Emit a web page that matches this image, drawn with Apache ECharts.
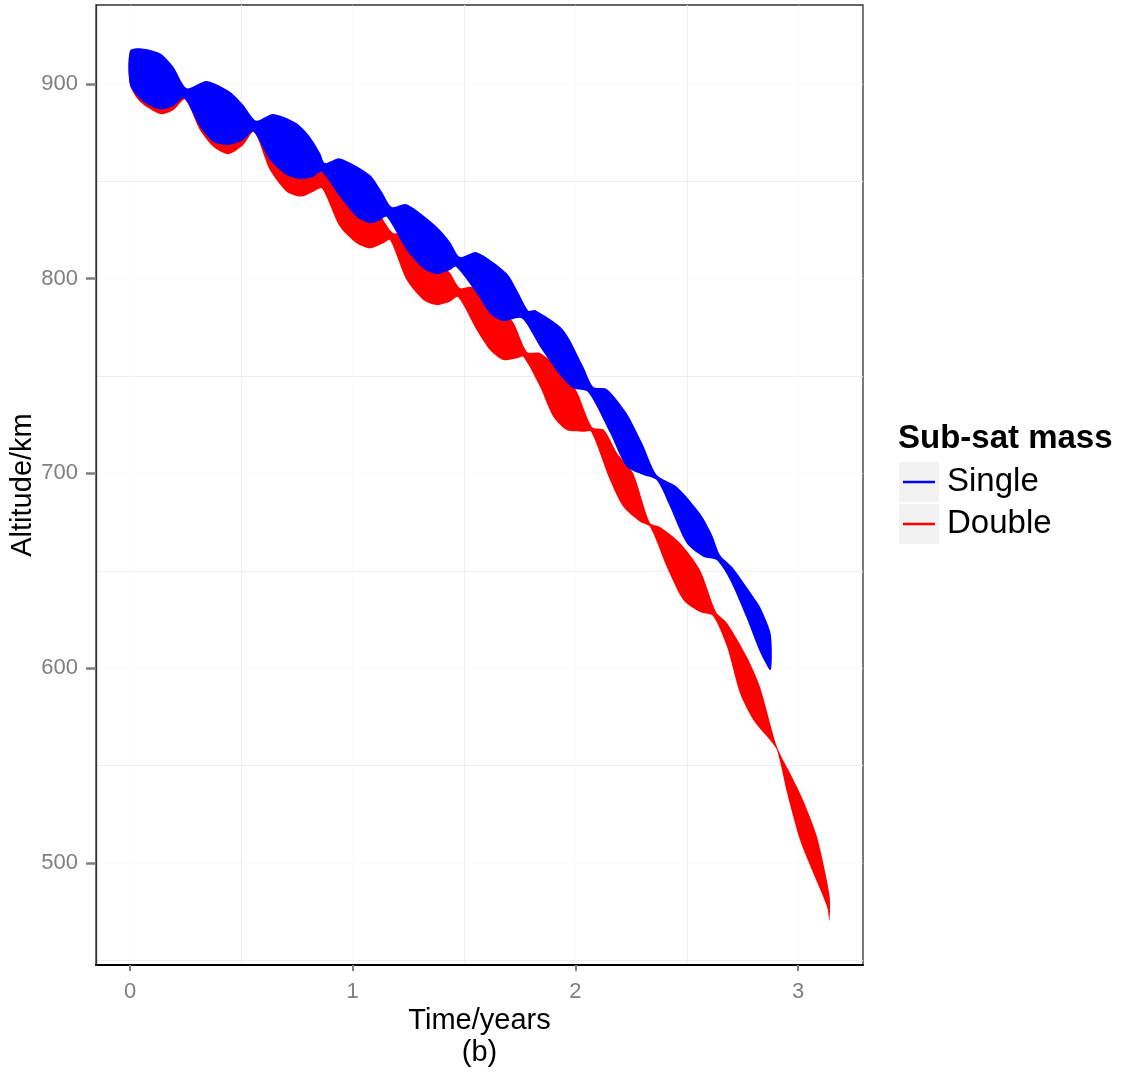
<!DOCTYPE html>
<html>
<head>
<meta charset="utf-8">
<script src="https://cdn.jsdelivr.net/npm/echarts@6/dist/echarts.min.js"></script>
<style>
  html, body { margin: 0; padding: 0; background: #ffffff; }
  #chart { width: 1128px; height: 1074px; }
</style>
</head>
<body>
<div id="chart"></div>
<script>
// ---- Data (time in years, altitude in km) ----
const seriesNames = ['Single', 'Double'];
const seriesColors = ['#0000FF', '#FF0000'];

const xTicks = [0, 1, 2, 3];
const xMinorTicks = [0.5, 1.5, 2.5];
const yTicks = [500, 600, 700, 800, 900];
const yMinorTicks = [450, 550, 650, 750, 850];

// Single: upper envelope
const singleUpperT = [0, 0.0525, 0.1347, 0.1944, 0.2546, 0.3444, 0.449, 0.5088, 0.5658, 0.6435, 0.7485, 0.8083, 0.8532, 0.8756, 0.943, 1.0777, 1.1316, 1.1751, 1.2425, 1.3772, 1.4369, 1.4818, 1.5568, 1.6915, 1.7423, 1.7885, 1.8186, 1.9457, 2.0355, 2.0804, 2.1405, 2.2303, 2.3035, 2.3651, 2.4549, 2.5595, 2.6134, 2.6493, 2.7077, 2.7988, 2.8289, 2.877];
const singleUpperAlt = [917.1, 918.3, 915.8, 908.9, 897.8, 901.5, 896.0, 889.2, 881.2, 884.6, 879.8, 872.8, 864.6, 859.4, 861.8, 853.3, 844.5, 836.8, 838.2, 826.7, 818.9, 811.1, 813.6, 802.8, 793.2, 783.6, 783.9, 773.7, 754.8, 744.4, 743.4, 730.9, 714.6, 699.2, 693.2, 679.5, 668.4, 658.1, 651.4, 636.7, 631.5, 617.5];
// Single: lower envelope
const singleLowerT = [0, 0.0597, 0.1347, 0.1944, 0.2425, 0.3143, 0.374, 0.4414, 0.5088, 0.5537, 0.6286, 0.7036, 0.7678, 0.8231, 0.8608, 0.943, 1.018, 1.0777, 1.1226, 1.1527, 1.2425, 1.317, 1.3772, 1.4369, 1.4638, 1.5568, 1.6165, 1.6762, 1.7589, 1.841, 1.9308, 1.9906, 2.0566, 2.1554, 2.2303, 2.3049, 2.3651, 2.4248, 2.4998, 2.5743, 2.6345, 2.6942, 2.7692, 2.8289, 2.877];
const singleLowerAlt = [899.5, 890.9, 887.0, 888.7, 892.7, 878.1, 870.4, 868.7, 871.2, 875.5, 861.0, 853.3, 851.2, 852.4, 855.0, 842.1, 831.8, 828.5, 830.1, 831.8, 814.7, 805.3, 802.4, 804.5, 806.2, 792.5, 782.2, 778.3, 779.7, 765.1, 750.5, 743.7, 741.8, 720.8, 703.4, 699.2, 696.6, 682.9, 664.1, 657.2, 655.5, 645.3, 625.7, 608.3, 599.0];

// Double: upper envelope
const doubleUpperT = [0, 0.0584, 0.1347, 0.1931, 0.2515, 0.3413, 0.449, 0.5074, 0.5613, 0.6421, 0.7499, 0.8083, 0.8622, 0.934, 1.0328, 1.1226, 1.181, 1.2483, 1.3471, 1.4369, 1.4818, 1.5357, 1.639, 1.7198, 1.7827, 1.841, 1.9443, 2.0072, 2.0745, 2.1284, 2.1868, 2.2586, 2.335, 2.3799, 2.4697, 2.5595, 2.6313, 2.6807, 2.7705, 2.8289, 2.9053, 2.9636, 3.022, 3.0849, 3.141];
const doubleUpperAlt = [916.4, 917.5, 914.4, 907.2, 895.4, 899.0, 893.3, 886.1, 877.9, 881.0, 875.9, 869.7, 854.8, 853.3, 844.5, 832.7, 823.5, 824.0, 814.7, 802.9, 795.2, 795.7, 786.5, 777.8, 762.4, 761.8, 752.1, 741.8, 723.8, 722.3, 710.5, 700.2, 674.5, 672.5, 664.3, 650.4, 628.8, 623.2, 605.7, 590.3, 559.5, 546.1, 532.3, 513.3, 483.5];
// Double: lower envelope
const doubleLowerT = [0, 0.0449, 0.1347, 0.1944, 0.247, 0.3143, 0.374, 0.4414, 0.5088, 0.5568, 0.6286, 0.7036, 0.7678, 0.8231, 0.8622, 0.943, 1.018, 1.0777, 1.1374, 1.1675, 1.2425, 1.317, 1.3772, 1.4369, 1.4728, 1.5568, 1.6165, 1.6762, 1.7378, 1.7661, 1.841, 1.9008, 1.9609, 2.0355, 2.07, 2.1554, 2.2151, 2.2901, 2.335, 2.41, 2.4845, 2.5595, 2.6179, 2.6807, 2.7391, 2.7988, 2.8738, 2.9053, 2.951, 3.0085, 3.0682, 3.1298, 3.141];
const doubleLowerAlt = [899.5, 890.9, 884.6, 886.6, 892.1, 876.4, 867.8, 864.0, 868.7, 875.5, 855.8, 844.7, 842.2, 844.7, 846.4, 826.7, 818.2, 815.6, 818.2, 819.9, 799.3, 789.1, 786.5, 788.2, 790.6, 773.7, 763.4, 758.2, 759.1, 759.9, 744.5, 729.1, 722.3, 721.4, 721.5, 696.6, 682.9, 675.2, 672.6, 652.1, 635.0, 628.8, 626.8, 611.0, 587.1, 573.4, 563.1, 557.9, 535.7, 511.7, 494.6, 477.5, 470.1];

// ---- Chart ----
const FONT = "'Liberation Sans', Arial, Helvetica, sans-serif";
const X_MIN = -0.1527, X_MAX = 3.2914;
const Y_MIN = 447.5, Y_MAX = 940.6;

function bandRenderer(tU, aU, tL, aL) {
  return function (params, api) {
    const pts = [];
    for (let i = 0; i < tU.length; i++) pts.push(api.coord([tU[i], aU[i]]));
    for (let i = tL.length - 1; i >= 0; i--) pts.push(api.coord([tL[i], aL[i]]));
    return {
      type: 'polygon',
      shape: { points: pts, smooth: 0.25 },
      style: { fill: api.visual('color'), stroke: null }
    };
  };
}

const chart = echarts.init(document.getElementById('chart'), null, { renderer: 'canvas' });

const option = {
  backgroundColor: '#ffffff',
  animation: false,
  grid: {
    left: 96, right: 265, top: 5, bottom: 109,
    outerBoundsMode: 'none', containLabel: false,
    show: true, borderColor: '#333333', borderWidth: 1.3, backgroundColor: '#ffffff'
  },
  xAxis: [
    {
      type: 'value', min: X_MIN, max: X_MAX, position: 'bottom',
      name: 'Time/years\n(b)', nameLocation: 'middle', nameGap: 40, nameMoveOverlap: false,
      nameTextStyle: { fontFamily: FONT, fontSize: 29, color: '#000', lineHeight: 32 },
      axisLine: { show: true, onZero: false, lineStyle: { color: '#000', width: 2 } },
      axisTick: { show: true, customValues: xTicks, length: 6, inside: false, lineStyle: { color: '#7f7f7f', width: 2 } },
      axisLabel: { show: true, customValues: xTicks, margin: 16, fontFamily: FONT, fontSize: 22, color: '#7f7f7f' },
      splitLine: { show: true, lineStyle: { color: '#F8F8F8', width: 0.6 } }
    },
    {
      type: 'value', min: X_MIN, max: X_MAX, position: 'top',
      axisLine: { show: false, onZero: false },
      axisTick: { show: false, customValues: xMinorTicks },
      axisLabel: { show: false },
      splitLine: { show: true, lineStyle: { color: '#EEEEEE', width: 1.2 } }
    }
  ],
  yAxis: [
    {
      type: 'value', min: Y_MIN, max: Y_MAX, position: 'left',
      name: 'Altitude/km', nameLocation: 'middle', nameGap: 59, nameRotate: 90, nameMoveOverlap: false,
      nameTextStyle: { fontFamily: FONT, fontSize: 29, color: '#000' },
      axisLine: { show: true, onZero: false, lineStyle: { color: '#333', width: 1.3 } },
      axisTick: { show: true, customValues: yTicks, length: 10, inside: false, lineStyle: { color: '#7f7f7f', width: 2.5 } },
      axisLabel: { show: true, customValues: yTicks, margin: 18, fontFamily: FONT, fontSize: 22, color: '#7f7f7f' },
      splitLine: { show: true, lineStyle: { color: '#F8F8F8', width: 0.6 } }
    },
    {
      type: 'value', min: Y_MIN, max: Y_MAX, position: 'right',
      axisLine: { show: false, onZero: false },
      axisTick: { show: false, customValues: yMinorTicks },
      axisLabel: { show: false },
      splitLine: { show: true, lineStyle: { color: '#EEEEEE', width: 1.2 } }
    }
  ],
  legend: {
    orient: 'vertical', left: 903, top: 461, padding: 0, itemGap: 0,
    data: seriesNames,
    icon: 'rect', itemWidth: 32, itemHeight: 2.5,
    textStyle: { fontFamily: FONT, fontSize: 33, color: '#000', lineHeight: 42, padding: [0, 0, 0, 7] }
  },
  graphic: [
    { type: 'rect', left: 899, top: 462, z: -1, shape: { width: 40, height: 40 }, style: { fill: '#F2F2F2' } },
    { type: 'rect', left: 899, top: 504, z: -1, shape: { width: 40, height: 40 }, style: { fill: '#F2F2F2' } },
    { type: 'text', left: 898, top: 422, style: { text: 'Sub-sat mass', font: "bold 33px 'Liberation Sans', Arial, sans-serif", fill: '#000' } }
  ],
  series: [
    {
      name: seriesNames[1], type: 'custom', coordinateSystem: 'cartesian2d', xAxisIndex: 0, yAxisIndex: 0,
      z: 2, itemStyle: { color: seriesColors[1] },
      renderItem: bandRenderer(doubleUpperT, doubleUpperAlt, doubleLowerT, doubleLowerAlt),
      data: [[doubleUpperT[0], doubleUpperAlt[0]]], silent: true
    },
    {
      name: seriesNames[0], type: 'custom', coordinateSystem: 'cartesian2d', xAxisIndex: 0, yAxisIndex: 0,
      z: 3, itemStyle: { color: seriesColors[0] },
      renderItem: bandRenderer(singleUpperT, singleUpperAlt, singleLowerT, singleLowerAlt),
      data: [[singleUpperT[0], singleUpperAlt[0]]], silent: true
    }
  ]
};
chart.setOption(option);
</script>
</body>
</html>
